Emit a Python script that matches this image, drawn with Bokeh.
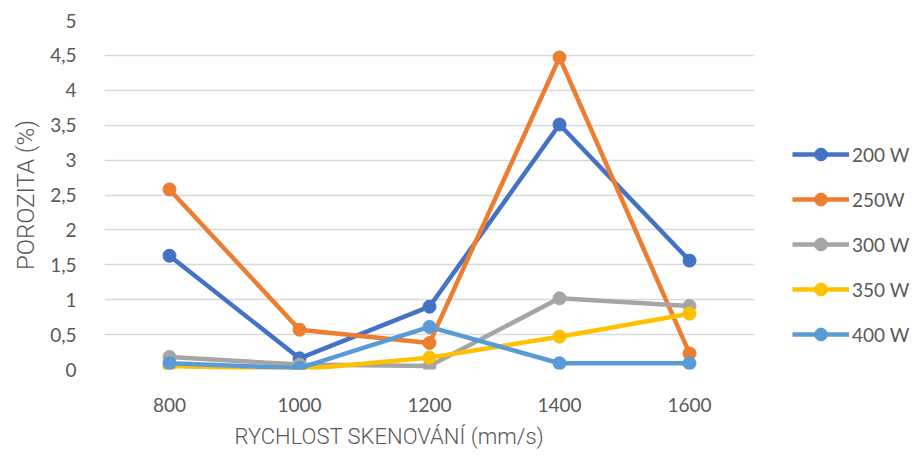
from bokeh.plotting import figure
from bokeh.models import FactorRange, Range1d, Legend, LegendItem, CustomJSTickFormatter, FixedTicker, Title
from bokeh.embed import file_html
from bokeh.resources import INLINE

speeds = ["800", "1000", "1200", "1400", "1600"]
s200 = [1.63, 0.16, 0.90, 3.51, 1.56]
s250 = [2.58, 0.57, 0.38, 4.47, 0.23]
s300 = [0.18, 0.07, 0.05, 1.02, 0.91]
s350 = [0.05, 0.00, 0.17, 0.47, 0.80]
s400 = [0.09, 0.02, 0.61, 0.09, 0.09]
series_names = ["200 W", "250W", "300 W", "350 W", "400 W"]
colors = ["#4472C4", "#ED7D31", "#A5A5A5", "#FFC000", "#5B9BD5"]
y_ticks = [0, 0.5, 1, 1.5, 2, 2.5, 3, 3.5, 4, 4.5, 5]
x_title = "RYCHLOST SKENOVÁNÍ (mm/s)"
y_title = "POROZITA (%)"

TITLE_FONT = "Roboto Light"

p = figure(frame_width=650, frame_height=349, x_range=FactorRange(*speeds, range_padding=0),
           y_range=Range1d(0, 5), output_backend="svg", toolbar_location=None,
           min_border_left=104, min_border_top=20, min_border_bottom=0, min_border_right=0)
p.outline_line_color = None
p.xgrid.grid_line_color = None
p.ygrid.grid_line_color = "#D9D9D9"
p.ygrid.grid_line_width = 1.5
p.yaxis.ticker = FixedTicker(ticks=y_ticks)
p.yaxis.formatter = CustomJSTickFormatter(code="return tick.toString().replace('.', ',');")

for ax in (p.xaxis[0], p.yaxis[0]):
    ax.axis_line_color = None
    ax.major_tick_line_color = None
    ax.minor_tick_line_color = None
    ax.major_label_text_font = "Lato"
    ax.major_label_text_font_size = "19px"
    ax.major_label_text_color = "#595959"
    ax.axis_label_text_font = TITLE_FONT
    ax.axis_label_text_font_style = "normal"
    ax.axis_label_text_font_size = "24px"
    ax.axis_label_text_color = "#595959"

p.yaxis.axis_label = y_title
p.xaxis.major_label_standoff = 22
p.yaxis.major_label_standoff = 22
p.yaxis.axis_label_standoff = 7

xt = Title(text=x_title, align="left", offset=130, standoff=14,
           text_font=TITLE_FONT, text_font_size="22px", text_font_style="normal",
           text_color="#595959")
p.add_layout(xt, "below")

items = []
for name, vals, c in zip(series_names, [s200, s250, s300, s350, s400], colors):
    l = p.line(speeds, vals, line_color=c, line_width=4.5)
    m = p.scatter(speeds, vals, size=13, fill_color=c, line_color=c)
    items.append(LegendItem(label=name, renderers=[l, m]))

legend = Legend(items=items, location=(38, 19), orientation="vertical",
                glyph_width=57, glyph_height=32, label_height=22, spacing=13,
                label_standoff=3, padding=0, margin=0, border_line_color=None,
                background_fill_alpha=0, label_text_font="Lato",
                label_text_font_size="19px", label_text_color="#595959")
p.add_layout(legend, "right")

open("out.html", "w").write(file_html(p, INLINE))
